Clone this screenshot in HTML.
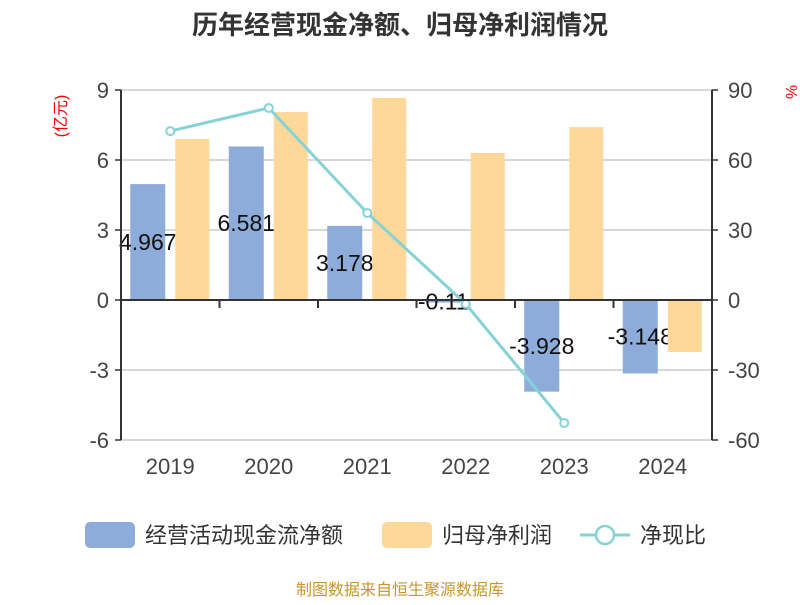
<!DOCTYPE html>
<html><head><meta charset="utf-8"><style>
body{margin:0;background:#fff;}
svg text{font-family:"Liberation Sans","Noto Sans CJK SC",sans-serif;}
</style></head><body>
<svg id="c" width="800" height="600" xmlns="http://www.w3.org/2000/svg">
<text x="400" y="34" text-anchor="middle" font-size="26" font-weight="bold" fill="#333">历年经营现金净额、归母净利润情况</text>
<text transform="translate(66,116) rotate(-90)" text-anchor="middle" font-size="16" fill="#e00">(亿元)</text>
<text transform="translate(786,92) rotate(90)" text-anchor="middle" font-size="16" fill="#e00">%</text>
<g id="grid"></g><g id="marks"></g><g id="axes"></g>
<g>
<rect x="85" y="522" width="50" height="26" rx="5" fill="#8eacd9"/>
<text x="145" y="543" font-size="22" fill="#333">经营活动现金流净额</text>
<rect x="382" y="522" width="50" height="26" rx="5" fill="#fed899"/>
<text x="442" y="543" font-size="22" fill="#333">归母净利润</text>
<line x1="580" y1="535" x2="630" y2="535" stroke="#85d3d6" stroke-width="3"/>
<circle cx="605" cy="535" r="9" fill="#fff" stroke="#85d3d6" stroke-width="2.5"/>
<text x="640" y="543" font-size="22" fill="#333">净现比</text>
</g>
<text x="400" y="595" text-anchor="middle" font-size="16" fill="#c8962c">制图数据来自恒生聚源数据库</text>
</svg>
<script>
const categories=["2019","2020","2021","2022","2023","2024"];
const cashFlow=[4.967,6.581,3.178,-0.11,-3.928,-3.148];
const netProfit=[6.9,8.06,8.66,6.3,7.41,-2.23];
const ratio=[72.4,82.3,37.3,-1.7,-52.7,null];
const leftTicks=[9,6,3,0,-3,-6];
const rightTicks=[90,60,30,0,-30,-60];
const NS="http://www.w3.org/2000/svg";
const X0=121,X1=712,T=90,B=440;
const yL=v=>T+(9-v)*(B-T)/15;
const yR=v=>T+(90-v)*(B-T)/150;
const bw=(X1-X0)/categories.length;
const xc=i=>X0+bw*(i+0.5);
function mk(tag,attrs,parent){const e=document.createElementNS(NS,tag);for(const k in attrs)e.setAttribute(k,attrs[k]);document.getElementById(parent).appendChild(e);return e;}
leftTicks.forEach((t,i)=>{
 const g=mk('line',{x1:X0,x2:X1,y1:yL(t),y2:yL(t),stroke:'#ccc','stroke-width':1.5},'grid');
 
 
 const l=mk('text',{x:X0-12,y:yL(t)+8,'text-anchor':'end','font-size':22,fill:'#444'},'axes');l.textContent=t;
 
 
 mk('line',{x1:X0-6,x2:X0,y1:yL(t),y2:yL(t),stroke:'#333','stroke-width':1.5},'axes');
});
rightTicks.forEach(t=>{
 const l=mk('text',{x:X1+16,y:yR(t)+8,'font-size':22,fill:'#444'},'axes');l.textContent=t;
 
 
 mk('line',{x1:X1,x2:X1+6,y1:yR(t),y2:yR(t),stroke:'#333','stroke-width':1.5},'axes');
});
mk('line',{x1:X0,x2:X0,y1:T,y2:B,stroke:'#333','stroke-width':2},'axes');
mk('line',{x1:X1,x2:X1,y1:T,y2:B,stroke:'#333','stroke-width':2},'axes');
mk('line',{x1:X0,x2:X1,y1:yL(0),y2:yL(0),stroke:'#333','stroke-width':2},'axes');
categories.forEach((c,i)=>{
 mk('line',{x1:X0+bw*(i+1),x2:X0+bw*(i+1),y1:yL(0),y2:yL(0)+8,stroke:'#333','stroke-width':2},'axes');
 const l=mk('text',{x:xc(i),y:474,'text-anchor':'middle','font-size':22,fill:'#444'},'axes');l.textContent=c;
 
 
});
const z=yL(0);
cashFlow.forEach((v,i)=>{
 const x=xc(i)-40,y=Math.min(yL(v),z),h=Math.max(Math.abs(yL(v)-z),1);
 const r=mk('rect',{x:x,y:y,width:35,height:h,fill:'#8eacd9'},'marks');
 
 
 const t=mk('text',{x:x+17.5,y:(yL(v)+z)/2+8,'text-anchor':'middle','font-size':23,fill:'#111'},'marks');t.textContent=v;
 
 
});
netProfit.forEach((v,i)=>{
 const x=xc(i)+5,y=Math.min(yL(v),z),h=Math.abs(yL(v)-z);
 const r=mk('rect',{x:x,y:y,width:34,height:h,fill:'#fed899'},'marks');
 
 
});
const pts=ratio.map((v,i)=>v===null?null:[xc(i),yR(v)]).filter(p=>p);
const pl=mk('polyline',{points:pts.map(p=>p.join(',')).join(' '),fill:'none',stroke:'#85d3d6','stroke-width':3},'marks');


pts.forEach(p=>{
 const c=mk('circle',{cx:p[0],cy:p[1],r:4,fill:'#fff',stroke:'#85d3d6','stroke-width':2},'marks');
 
 
});
</script>
</body></html>
